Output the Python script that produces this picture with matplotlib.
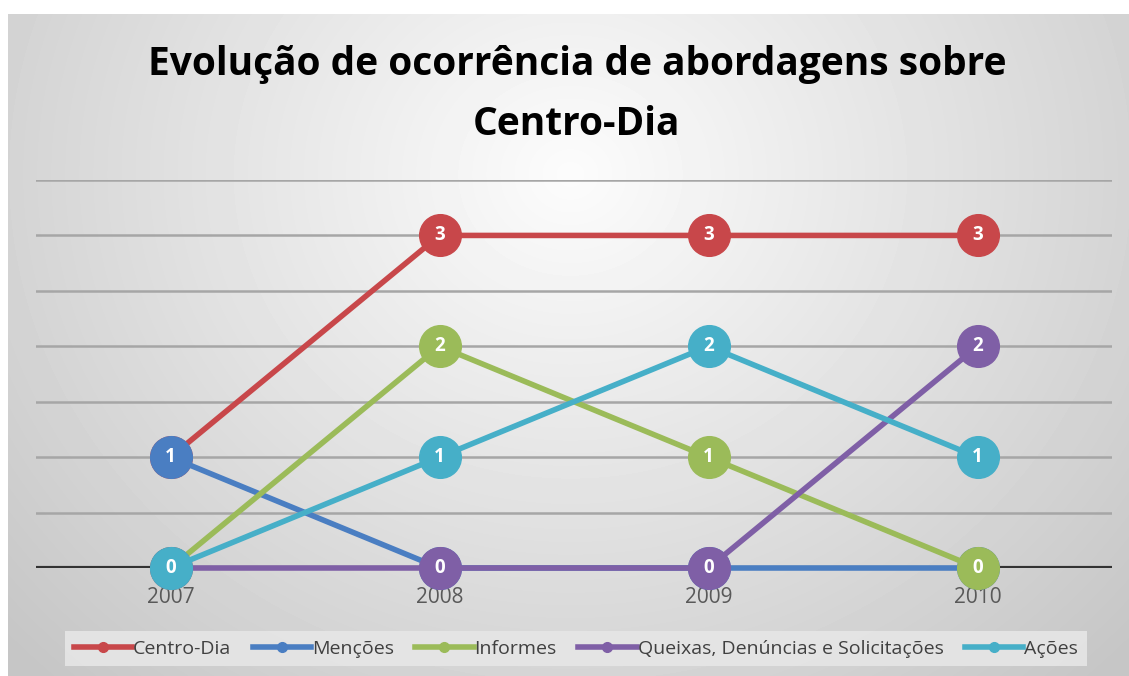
import numpy as np
import matplotlib.pyplot as plt
from matplotlib.lines import Line2D

# datos del grafico
anos = ['2007', '2008', '2009', '2010']
series = ['Centro-Dia', 'Menções', 'Informes', 'Queixas, Denúncias e Solicitações', 'Ações']
centro_dia = [1, 3, 3, 3]
mencoes = [1, 0, 0, 0]
informes = [0, 2, 1, 0]
queixas = [0, 0, 0, 2]
acoes = [0, 1, 2, 1]
valores = [centro_dia, mencoes, informes, queixas, acoes]
colores = ['#C8474A', '#4A7EC2', '#9BBB59', '#7F5FA6', '#46AFC8']

plt.rcParams['font.family'] = ['Open Sans', 'DejaVu Sans']

W, H = 1129, 676
fig = plt.figure(figsize=(W / 100, H / 100), dpi=100)
fig.patch.set_facecolor('white')

# fondo con degradado radial
bg = fig.add_axes([8 / W, 0, 1 - 8 / W, (H - 14) / H])
xx, yy = np.meshgrid(np.arange(W - 8), np.arange(H - 14))
d = np.sqrt(((xx - 562) / 620) ** 2 + ((yy - 160) / 560) ** 2)
v = np.clip(252 - 44 * d, 198, 255) / 255
bg.imshow(v, cmap='gray', vmin=0, vmax=1, aspect='auto', interpolation='bilinear')
bg.axis('off')

ax = fig.add_axes([36 / W, (H - 568) / H, (1112 - 36) / W, (568 - 180) / H])
ax.patch.set_alpha(0)
x = np.arange(len(anos))
ax.set_xlim(-0.5, 3.5)
ax.set_ylim(0, 3.5)
for yv in np.arange(0.5, 3.51, 0.5):
    ax.axhline(yv, color='#A6A6A6', lw=1.8, zorder=1)
ax.axhline(0, color='#333333', lw=3, zorder=1)

for i, (nombre, vals, c) in enumerate(zip(series, valores, colores)):
    ax.plot(x, vals, color=c, lw=4, marker='o', ms=30, mec=c, mfc=c,
            zorder=3 + i, clip_on=False, solid_capstyle='round')
    for xi, yi in zip(x, vals):
        ax.text(xi, yi, str(yi), color='white', fontsize=13.5, fontweight='bold',
                ha='center', va='center', zorder=3 + i, clip_on=False)

for s in ax.spines.values():
    s.set_visible(False)
ax.set_yticks([])
ax.set_xticks(x)
ax.set_xticklabels(anos, color='#595959', fontsize=15)
ax.tick_params(axis='x', length=0, pad=14)

# titulo en dos lineas
fig.text(0.511, 1 - 75 / H, 'Evolução de ocorrência de abordagens sobre',
         ha='center', va='baseline', fontsize=28, fontweight='bold', color='black')
fig.text(0.511, 1 - 135 / H, 'Centro-Dia',
         ha='center', va='baseline', fontsize=28, fontweight='bold', color='black')

handles = [Line2D([0], [0], color=c, lw=4, marker='o', ms=7) for c in colores]
leg = fig.legend(handles, series, loc='center', bbox_to_anchor=(0.51, 1 - 648.5 / H),
                 ncol=5, frameon=True, fontsize=14, handlelength=3.0,
                 handletextpad=0.05, columnspacing=1.1, borderpad=0.45)
leg.get_frame().set_facecolor('#E6E6E6')
leg.get_frame().set_edgecolor('none')
leg.get_frame().set_alpha(0.9)
leg.get_frame().set_boxstyle('square', pad=0)
for t in leg.get_texts():
    t.set_color('#404040')

plt.savefig('out.png', dpi=100)
